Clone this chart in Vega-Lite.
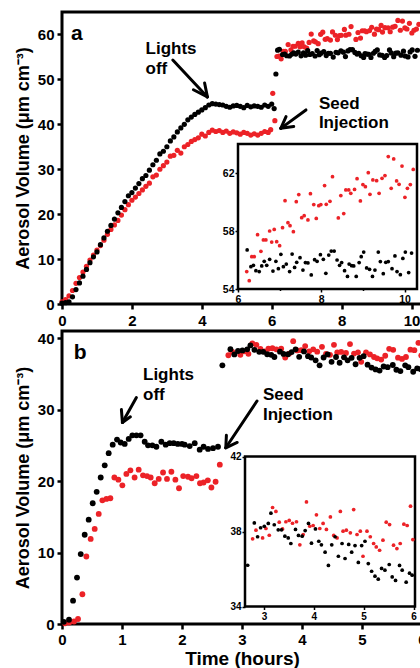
{
"$schema": "https://vega.github.io/schema/vega-lite/v6.json",
"background": "white",
"padding": {"left": 12, "top": 10, "right": 0, "bottom": 2},
"spacing": 27,
"bounds": "flush",
"config": {
  "view": {"stroke": "black", "strokeWidth": 3},
  "font": "Liberation Sans",
  "axis": {"grid": false, "domain": false, "tickColor": "black", "tickWidth": 2.5, "tickSize": 4, "labelColor": "black", "labelFont": "Liberation Sans", "labelFontWeight": "bold", "labelFontSize": 15, "labelPadding": 4, "titleFont": "Liberation Sans", "titleFontWeight": "bold", "titleColor": "black", "titleFontSize": 18, "labelFlush": false, "labelOverlap": false}
},
"datasets": {
  "a": [
    {"t":0,"v":0.5,"s":"Exp 2"},{"t":0.1,"v":1.0,"s":"Exp 2"},{"t":0.2,"v":1.8,"s":"Exp 2"},{"t":0.3,"v":3.0,"s":"Exp 2"},{"t":0.4,"v":4.6,"s":"Exp 2"},{"t":0.5,"v":5.9,"s":"Exp 2"},{"t":0.6,"v":7.1,"s":"Exp 2"},{"t":0.7,"v":8.4,"s":"Exp 2"},{"t":0.8,"v":9.8,"s":"Exp 2"},{"t":0.9,"v":10.9,"s":"Exp 2"},
    {"t":1.0,"v":12.0,"s":"Exp 2"},{"t":1.1,"v":13.0,"s":"Exp 2"},{"t":1.2,"v":14.2,"s":"Exp 2"},{"t":1.3,"v":15.5,"s":"Exp 2"},{"t":1.4,"v":16.6,"s":"Exp 2"},{"t":1.5,"v":17.6,"s":"Exp 2"},{"t":1.6,"v":18.6,"s":"Exp 2"},{"t":1.7,"v":19.8,"s":"Exp 2"},{"t":1.8,"v":21.0,"s":"Exp 2"},{"t":1.9,"v":22.1,"s":"Exp 2"},
    {"t":2.0,"v":23.1,"s":"Exp 2"},{"t":2.1,"v":23.8,"s":"Exp 2"},{"t":2.2,"v":24.6,"s":"Exp 2"},{"t":2.3,"v":25.4,"s":"Exp 2"},{"t":2.4,"v":26.2,"s":"Exp 2"},{"t":2.5,"v":26.9,"s":"Exp 2"},{"t":2.6,"v":28.3,"s":"Exp 2"},{"t":2.7,"v":28.7,"s":"Exp 2"},{"t":2.8,"v":30.0,"s":"Exp 2"},{"t":2.9,"v":30.8,"s":"Exp 2"},
    {"t":3.0,"v":31.6,"s":"Exp 2"},{"t":3.1,"v":32.9,"s":"Exp 2"},{"t":3.2,"v":33.1,"s":"Exp 2"},{"t":3.3,"v":34.2,"s":"Exp 2"},{"t":3.4,"v":33.6,"s":"Exp 2"},{"t":3.5,"v":35.0,"s":"Exp 2"},{"t":3.6,"v":35.5,"s":"Exp 2"},{"t":3.7,"v":36.2,"s":"Exp 2"},{"t":3.8,"v":36.6,"s":"Exp 2"},{"t":3.9,"v":37.0,"s":"Exp 2"},
    {"t":4.0,"v":37.8,"s":"Exp 2"},{"t":4.1,"v":37.4,"s":"Exp 2"},{"t":4.2,"v":38.2,"s":"Exp 2"},{"t":4.3,"v":38.7,"s":"Exp 2"},{"t":4.4,"v":38.4,"s":"Exp 2"},{"t":4.5,"v":38.6,"s":"Exp 2"},{"t":4.6,"v":38.2,"s":"Exp 2"},{"t":4.7,"v":38.5,"s":"Exp 2"},{"t":4.8,"v":38.0,"s":"Exp 2"},{"t":4.9,"v":38.3,"s":"Exp 2"},
    {"t":5.0,"v":38.1,"s":"Exp 2"},{"t":5.1,"v":37.8,"s":"Exp 2"},{"t":5.2,"v":38.2,"s":"Exp 2"},{"t":5.3,"v":38.0,"s":"Exp 2"},{"t":5.4,"v":37.6,"s":"Exp 2"},{"t":5.5,"v":37.9,"s":"Exp 2"},{"t":5.6,"v":37.6,"s":"Exp 2"},{"t":5.7,"v":38.0,"s":"Exp 2"},{"t":5.8,"v":38.4,"s":"Exp 2"},{"t":5.9,"v":38.2,"s":"Exp 2"},
    {"t":5.97,"v":38.8,"s":"Exp 2"},{"t":6.03,"v":46.9,"s":"Exp 2"},{"t":6.09,"v":40.8,"s":"Exp 2"},{"t":6.15,"v":55.1,"s":"Exp 2"},
    {"t":6.21,"v":55.20,"s":"Exp 2"},{"t":6.27,"v":54.57,"s":"Exp 2"},{"t":6.33,"v":56.23,"s":"Exp 2"},{"t":6.39,"v":56.23,"s":"Exp 2"},{"t":6.47,"v":57.75,"s":"Exp 2"},{"t":6.55,"v":56.60,"s":"Exp 2"},{"t":6.61,"v":57.38,"s":"Exp 2"},{"t":6.67,"v":57.38,"s":"Exp 2"},{"t":6.76,"v":58.0,"s":"Exp 2"},{"t":6.81,"v":57.24,"s":"Exp 2"},
    {"t":6.87,"v":58.11,"s":"Exp 2"},{"t":6.93,"v":57.26,"s":"Exp 2"},{"t":7.0,"v":56.99,"s":"Exp 2"},{"t":7.07,"v":58.23,"s":"Exp 2"},{"t":7.13,"v":60.09,"s":"Exp 2"},{"t":7.2,"v":58.57,"s":"Exp 2"},{"t":7.25,"v":58.37,"s":"Exp 2"},{"t":7.33,"v":57.95,"s":"Exp 2"},{"t":7.4,"v":60.02,"s":"Exp 2"},{"t":7.46,"v":60.51,"s":"Exp 2"},
    {"t":7.53,"v":58.92,"s":"Exp 2"},{"t":7.59,"v":59.06,"s":"Exp 2"},{"t":7.68,"v":58.76,"s":"Exp 2"},{"t":7.74,"v":60.57,"s":"Exp 2"},{"t":7.82,"v":59.82,"s":"Exp 2"},{"t":7.88,"v":58.87,"s":"Exp 2"},{"t":7.94,"v":59.75,"s":"Exp 2"},{"t":7.99,"v":59.82,"s":"Exp 2"},{"t":8.08,"v":61.13,"s":"Exp 2"},{"t":8.12,"v":59.84,"s":"Exp 2"},
    {"t":8.21,"v":60.05,"s":"Exp 2"},{"t":8.27,"v":61.75,"s":"Exp 2"},{"t":8.41,"v":58.9,"s":"Exp 2"},{"t":8.47,"v":60.44,"s":"Exp 2"},{"t":8.54,"v":59.2,"s":"Exp 2"},{"t":8.59,"v":60.83,"s":"Exp 2"},{"t":8.66,"v":60.83,"s":"Exp 2"},{"t":8.71,"v":60.6,"s":"Exp 2"},{"t":8.8,"v":60.87,"s":"Exp 2"},{"t":8.86,"v":61.61,"s":"Exp 2"},
    {"t":8.94,"v":60.07,"s":"Exp 2"},{"t":9.0,"v":61.2,"s":"Exp 2"},{"t":9.06,"v":61.06,"s":"Exp 2"},{"t":9.13,"v":62.02,"s":"Exp 2"},{"t":9.17,"v":60.53,"s":"Exp 2"},{"t":9.24,"v":61.52,"s":"Exp 2"},{"t":9.33,"v":61.47,"s":"Exp 2"},{"t":9.39,"v":60.6,"s":"Exp 2"},{"t":9.46,"v":61.63,"s":"Exp 2"},{"t":9.53,"v":61.82,"s":"Exp 2"},
    {"t":9.61,"v":63.13,"s":"Exp 2"},{"t":9.68,"v":60.94,"s":"Exp 2"},{"t":9.74,"v":62.97,"s":"Exp 2"},{"t":9.81,"v":61.45,"s":"Exp 2"},{"t":9.87,"v":61.22,"s":"Exp 2"},{"t":9.94,"v":62.48,"s":"Exp 2"},{"t":10.01,"v":60.32,"s":"Exp 2"},{"t":10.07,"v":60.94,"s":"Exp 2"},{"t":10.14,"v":61.2,"s":"Exp 2"},{"t":10.21,"v":62.25,"s":"Exp 2"},
    {"t":0,"v":0.2,"s":"Exp 1"},{"t":0.1,"v":0.3,"s":"Exp 1"},{"t":0.2,"v":0.5,"s":"Exp 1"},{"t":0.3,"v":1.6,"s":"Exp 1"},{"t":0.4,"v":3.2,"s":"Exp 1"},{"t":0.5,"v":4.7,"s":"Exp 1"},{"t":0.6,"v":6.2,"s":"Exp 1"},{"t":0.7,"v":7.7,"s":"Exp 1"},{"t":0.8,"v":9.2,"s":"Exp 1"},{"t":0.9,"v":10.5,"s":"Exp 1"},
    {"t":1.0,"v":11.6,"s":"Exp 1"},{"t":1.1,"v":13.2,"s":"Exp 1"},{"t":1.2,"v":14.7,"s":"Exp 1"},{"t":1.3,"v":16.2,"s":"Exp 1"},{"t":1.4,"v":17.5,"s":"Exp 1"},{"t":1.5,"v":18.9,"s":"Exp 1"},{"t":1.6,"v":20.3,"s":"Exp 1"},{"t":1.7,"v":21.5,"s":"Exp 1"},{"t":1.8,"v":22.8,"s":"Exp 1"},{"t":1.9,"v":24.1,"s":"Exp 1"},
    {"t":2.0,"v":24.8,"s":"Exp 1"},{"t":2.1,"v":25.8,"s":"Exp 1"},{"t":2.2,"v":26.8,"s":"Exp 1"},{"t":2.3,"v":27.9,"s":"Exp 1"},{"t":2.4,"v":28.6,"s":"Exp 1"},{"t":2.5,"v":29.8,"s":"Exp 1"},{"t":2.6,"v":31.0,"s":"Exp 1"},{"t":2.7,"v":32.0,"s":"Exp 1"},{"t":2.8,"v":33.4,"s":"Exp 1"},{"t":2.9,"v":34.0,"s":"Exp 1"},
    {"t":3.0,"v":35.0,"s":"Exp 1"},{"t":3.1,"v":36.3,"s":"Exp 1"},{"t":3.2,"v":37.2,"s":"Exp 1"},{"t":3.3,"v":38.3,"s":"Exp 1"},{"t":3.4,"v":39.2,"s":"Exp 1"},{"t":3.5,"v":40.0,"s":"Exp 1"},{"t":3.6,"v":41.0,"s":"Exp 1"},{"t":3.7,"v":41.6,"s":"Exp 1"},{"t":3.8,"v":42.2,"s":"Exp 1"},{"t":3.9,"v":42.7,"s":"Exp 1"},
    {"t":4.0,"v":43.2,"s":"Exp 1"},{"t":4.1,"v":43.7,"s":"Exp 1"},{"t":4.2,"v":44.3,"s":"Exp 1"},{"t":4.3,"v":44.6,"s":"Exp 1"},{"t":4.4,"v":44.5,"s":"Exp 1"},{"t":4.5,"v":44.4,"s":"Exp 1"},{"t":4.6,"v":44.3,"s":"Exp 1"},{"t":4.7,"v":44.0,"s":"Exp 1"},{"t":4.8,"v":43.8,"s":"Exp 1"},{"t":4.9,"v":44.1,"s":"Exp 1"},
    {"t":5.0,"v":44.2,"s":"Exp 1"},{"t":5.1,"v":44.0,"s":"Exp 1"},{"t":5.2,"v":43.7,"s":"Exp 1"},{"t":5.3,"v":44.2,"s":"Exp 1"},{"t":5.4,"v":43.9,"s":"Exp 1"},{"t":5.5,"v":44.1,"s":"Exp 1"},{"t":5.6,"v":44.0,"s":"Exp 1"},{"t":5.7,"v":43.8,"s":"Exp 1"},{"t":5.8,"v":44.3,"s":"Exp 1"},{"t":5.9,"v":44.0,"s":"Exp 1"},
    {"t":6.0,"v":44.5,"s":"Exp 1"},{"t":6.07,"v":43.5,"s":"Exp 1"},{"t":6.12,"v":51.2,"s":"Exp 1"},{"t":6.17,"v":56.5,"s":"Exp 1"},
    {"t":6.22,"v":56.69,"s":"Exp 1"},{"t":6.31,"v":55.54,"s":"Exp 1"},{"t":6.37,"v":55.63,"s":"Exp 1"},{"t":6.43,"v":55.26,"s":"Exp 1"},{"t":6.51,"v":55.20,"s":"Exp 1"},{"t":6.57,"v":55.59,"s":"Exp 1"},{"t":6.63,"v":55.91,"s":"Exp 1"},{"t":6.69,"v":55.63,"s":"Exp 1"},{"t":6.76,"v":56.05,"s":"Exp 1"},{"t":6.84,"v":55.24,"s":"Exp 1"},
    {"t":6.91,"v":55.91,"s":"Exp 1"},{"t":6.97,"v":55.40,"s":"Exp 1"},{"t":7.03,"v":56.39,"s":"Exp 1"},{"t":7.09,"v":55.54,"s":"Exp 1"},{"t":7.16,"v":55.72,"s":"Exp 1"},{"t":7.24,"v":55.20,"s":"Exp 1"},{"t":7.30,"v":56.41,"s":"Exp 1"},{"t":7.36,"v":55.49,"s":"Exp 1"},{"t":7.41,"v":55.84,"s":"Exp 1"},{"t":7.49,"v":56.16,"s":"Exp 1"},
    {"t":7.56,"v":55.31,"s":"Exp 1"},{"t":7.62,"v":55.82,"s":"Exp 1"},{"t":7.68,"v":55.80,"s":"Exp 1"},{"t":7.76,"v":54.97,"s":"Exp 1"},{"t":7.84,"v":56.02,"s":"Exp 1"},{"t":7.90,"v":55.91,"s":"Exp 1"},{"t":7.98,"v":56.37,"s":"Exp 1"},{"t":8.05,"v":56.05,"s":"Exp 1"},{"t":8.11,"v":55.08,"s":"Exp 1"},{"t":8.18,"v":56.34,"s":"Exp 1"},
    {"t":8.24,"v":56.62,"s":"Exp 1"},{"t":8.31,"v":56.62,"s":"Exp 1"},{"t":8.38,"v":56.0,"s":"Exp 1"},{"t":8.44,"v":55.63,"s":"Exp 1"},{"t":8.49,"v":55.82,"s":"Exp 1"},{"t":8.56,"v":55.26,"s":"Exp 1"},{"t":8.63,"v":54.87,"s":"Exp 1"},{"t":8.67,"v":55.72,"s":"Exp 1"},{"t":8.73,"v":55.61,"s":"Exp 1"},{"t":8.78,"v":55.59,"s":"Exp 1"},
    {"t":8.84,"v":54.87,"s":"Exp 1"},{"t":8.91,"v":55.82,"s":"Exp 1"},{"t":8.96,"v":56.23,"s":"Exp 1"},{"t":9.02,"v":56.55,"s":"Exp 1"},{"t":9.09,"v":55.45,"s":"Exp 1"},{"t":9.16,"v":55.36,"s":"Exp 1"},{"t":9.23,"v":54.87,"s":"Exp 1"},{"t":9.29,"v":55.31,"s":"Exp 1"},{"t":9.37,"v":56.55,"s":"Exp 1"},{"t":9.42,"v":55.89,"s":"Exp 1"},
    {"t":9.49,"v":55.06,"s":"Exp 1"},{"t":9.55,"v":55.84,"s":"Exp 1"},{"t":9.61,"v":55.89,"s":"Exp 1"},{"t":9.70,"v":55.40,"s":"Exp 1"},{"t":9.77,"v":56.28,"s":"Exp 1"},{"t":9.82,"v":55.20,"s":"Exp 1"},{"t":9.90,"v":54.99,"s":"Exp 1"},{"t":9.96,"v":56.11,"s":"Exp 1"},{"t":10.02,"v":56.55,"s":"Exp 1"},{"t":10.10,"v":55.13,"s":"Exp 1"},
    {"t":10.17,"v":56.48,"s":"Exp 1"}
  ],
  "b": [
    {"t":0.05,"v":0.1,"s":"Exp 2"},{"t":0.12,"v":0.2,"s":"Exp 2"},{"t":0.2,"v":0.35,"s":"Exp 2"},{"t":0.267,"v":0.7,"s":"Exp 2"},{"t":0.34,"v":4.16,"s":"Exp 2"},{"t":0.406,"v":9.45,"s":"Exp 2"},{"t":0.478,"v":11.9,"s":"Exp 2"},{"t":0.545,"v":13.3,"s":"Exp 2"},{"t":0.612,"v":15.4,"s":"Exp 2"},{"t":0.673,"v":17.3,"s":"Exp 2"},
    {"t":0.74,"v":17.5,"s":"Exp 2"},{"t":0.806,"v":17.6,"s":"Exp 2"},{"t":0.873,"v":20.5,"s":"Exp 2"},{"t":0.94,"v":20.2,"s":"Exp 2"},{"t":1.006,"v":19.4,"s":"Exp 2"},{"t":1.073,"v":21.0,"s":"Exp 2"},{"t":1.14,"v":21.5,"s":"Exp 2"},{"t":1.21,"v":20.5,"s":"Exp 2"},{"t":1.278,"v":21.6,"s":"Exp 2"},{"t":1.35,"v":20.8,"s":"Exp 2"},
    {"t":1.417,"v":20.7,"s":"Exp 2"},{"t":1.478,"v":20.5,"s":"Exp 2"},{"t":1.545,"v":19.7,"s":"Exp 2"},{"t":1.612,"v":20.3,"s":"Exp 2"},{"t":1.684,"v":21.2,"s":"Exp 2"},{"t":1.75,"v":20.3,"s":"Exp 2"},{"t":1.823,"v":21.3,"s":"Exp 2"},{"t":1.89,"v":20.2,"s":"Exp 2"},{"t":1.95,"v":19.0,"s":"Exp 2"},{"t":2.02,"v":20.7,"s":"Exp 2"},
    {"t":2.1,"v":20.6,"s":"Exp 2"},{"t":2.16,"v":20.4,"s":"Exp 2"},{"t":2.24,"v":20.7,"s":"Exp 2"},{"t":2.3,"v":19.7,"s":"Exp 2"},{"t":2.36,"v":19.8,"s":"Exp 2"},{"t":2.43,"v":20.1,"s":"Exp 2"},{"t":2.49,"v":19.1,"s":"Exp 2"},{"t":2.56,"v":19.9,"s":"Exp 2"},{"t":2.63,"v":22.3,"s":"Exp 2"},
    {"t":2.773,"v":37.61,"s":"Exp 2"},{"t":2.84,"v":38.07,"s":"Exp 2"},{"t":2.973,"v":37.66,"s":"Exp 2"},{"t":3.04,"v":38.16,"s":"Exp 2"},{"t":3.107,"v":37.80,"s":"Exp 2"},{"t":3.173,"v":39.28,"s":"Exp 2"},{"t":3.24,"v":39.07,"s":"Exp 2"},{"t":3.307,"v":38.50,"s":"Exp 2"},{"t":3.373,"v":38.14,"s":"Exp 2"},{"t":3.44,"v":38.52,"s":"Exp 2"},
    {"t":3.507,"v":38.59,"s":"Exp 2"},{"t":3.573,"v":38.44,"s":"Exp 2"},{"t":3.653,"v":38.52,"s":"Exp 2"},{"t":3.72,"v":37.29,"s":"Exp 2"},{"t":3.787,"v":37.84,"s":"Exp 2"},{"t":3.853,"v":39.58,"s":"Exp 2"},{"t":3.92,"v":38.28,"s":"Exp 2"},{"t":3.987,"v":38.32,"s":"Exp 2"},{"t":4.053,"v":38.89,"s":"Exp 2"},{"t":4.12,"v":38.16,"s":"Exp 2"},
    {"t":4.187,"v":38.43,"s":"Exp 2"},{"t":4.253,"v":38.11,"s":"Exp 2"},{"t":4.333,"v":38.78,"s":"Exp 2"},{"t":4.40,"v":37.79,"s":"Exp 2"},{"t":4.467,"v":37.66,"s":"Exp 2"},{"t":4.533,"v":39.07,"s":"Exp 2"},{"t":4.587,"v":38.02,"s":"Exp 2"},{"t":4.653,"v":38.07,"s":"Exp 2"},{"t":4.733,"v":37.93,"s":"Exp 2"},{"t":4.80,"v":39.17,"s":"Exp 2"},
    {"t":4.867,"v":37.84,"s":"Exp 2"},{"t":4.933,"v":38.02,"s":"Exp 2"},{"t":4.987,"v":36.68,"s":"Exp 2"},{"t":5.067,"v":38.02,"s":"Exp 2"},{"t":5.133,"v":37.72,"s":"Exp 2"},{"t":5.20,"v":37.36,"s":"Exp 2"},{"t":5.253,"v":37.18,"s":"Exp 2"},{"t":5.32,"v":37.00,"s":"Exp 2"},{"t":5.387,"v":37.54,"s":"Exp 2"},{"t":5.453,"v":38.50,"s":"Exp 2"},
    {"t":5.52,"v":38.37,"s":"Exp 2"},{"t":5.60,"v":37.27,"s":"Exp 2"},{"t":5.667,"v":37.09,"s":"Exp 2"},{"t":5.733,"v":37.36,"s":"Exp 2"},{"t":5.807,"v":38.39,"s":"Exp 2"},{"t":5.873,"v":38.32,"s":"Exp 2"},{"t":5.94,"v":39.35,"s":"Exp 2"},{"t":5.987,"v":37.57,"s":"Exp 2"},
    {"t":0.03,"v":0.3,"s":"Exp 1"},{"t":0.117,"v":0.6,"s":"Exp 1"},{"t":0.184,"v":3.27,"s":"Exp 1"},{"t":0.25,"v":6.5,"s":"Exp 1"},{"t":0.312,"v":9.78,"s":"Exp 1"},{"t":0.378,"v":12.49,"s":"Exp 1"},{"t":0.445,"v":14.6,"s":"Exp 1"},{"t":0.512,"v":16.9,"s":"Exp 1"},{"t":0.578,"v":18.5,"s":"Exp 1"},{"t":0.645,"v":20.5,"s":"Exp 1"},
    {"t":0.712,"v":22.2,"s":"Exp 1"},{"t":0.778,"v":23.9,"s":"Exp 1"},{"t":0.845,"v":25.1,"s":"Exp 1"},{"t":0.917,"v":25.8,"s":"Exp 1"},{"t":0.978,"v":25.4,"s":"Exp 1"},{"t":1.045,"v":25.2,"s":"Exp 1"},{"t":1.112,"v":25.9,"s":"Exp 1"},{"t":1.173,"v":26.4,"s":"Exp 1"},{"t":1.24,"v":26.4,"s":"Exp 1"},{"t":1.31,"v":26.4,"s":"Exp 1"},
    {"t":1.378,"v":25.5,"s":"Exp 1"},{"t":1.434,"v":25.0,"s":"Exp 1"},{"t":1.506,"v":25.0,"s":"Exp 1"},{"t":1.573,"v":24.8,"s":"Exp 1"},{"t":1.656,"v":25.5,"s":"Exp 1"},{"t":1.728,"v":25.1,"s":"Exp 1"},{"t":1.795,"v":25.3,"s":"Exp 1"},{"t":1.862,"v":25.3,"s":"Exp 1"},{"t":1.93,"v":25.2,"s":"Exp 1"},{"t":2.0,"v":25.2,"s":"Exp 1"},
    {"t":2.045,"v":25.1,"s":"Exp 1"},{"t":2.128,"v":24.9,"s":"Exp 1"},{"t":2.212,"v":25.3,"s":"Exp 1"},{"t":2.295,"v":24.4,"s":"Exp 1"},{"t":2.36,"v":24.8,"s":"Exp 1"},{"t":2.434,"v":24.5,"s":"Exp 1"},{"t":2.517,"v":24.6,"s":"Exp 1"},{"t":2.6,"v":24.8,"s":"Exp 1"},
    {"t":2.673,"v":36.20,"s":"Exp 1"},{"t":2.807,"v":38.46,"s":"Exp 1"},{"t":2.873,"v":37.72,"s":"Exp 1"},{"t":2.933,"v":38.20,"s":"Exp 1"},{"t":3.007,"v":38.28,"s":"Exp 1"},{"t":3.087,"v":38.43,"s":"Exp 1"},{"t":3.14,"v":38.98,"s":"Exp 1"},{"t":3.207,"v":38.36,"s":"Exp 1"},{"t":3.287,"v":38.09,"s":"Exp 1"},{"t":3.353,"v":38.09,"s":"Exp 1"},
    {"t":3.42,"v":37.75,"s":"Exp 1"},{"t":3.487,"v":37.66,"s":"Exp 1"},{"t":3.54,"v":37.36,"s":"Exp 1"},{"t":3.633,"v":38.11,"s":"Exp 1"},{"t":3.693,"v":37.79,"s":"Exp 1"},{"t":3.767,"v":37.75,"s":"Exp 1"},{"t":3.827,"v":38.05,"s":"Exp 1"},{"t":3.893,"v":38.43,"s":"Exp 1"},{"t":3.953,"v":37.38,"s":"Exp 1"},{"t":4.033,"v":38.14,"s":"Exp 1"},
    {"t":4.10,"v":37.48,"s":"Exp 1"},{"t":4.153,"v":37.29,"s":"Exp 1"},{"t":4.227,"v":36.90,"s":"Exp 1"},{"t":4.293,"v":36.19,"s":"Exp 1"},{"t":4.36,"v":37.29,"s":"Exp 1"},{"t":4.427,"v":37.72,"s":"Exp 1"},{"t":4.493,"v":36.68,"s":"Exp 1"},{"t":4.567,"v":37.36,"s":"Exp 1"},{"t":4.627,"v":36.56,"s":"Exp 1"},{"t":4.70,"v":37.31,"s":"Exp 1"},
    {"t":4.76,"v":36.90,"s":"Exp 1"},{"t":4.827,"v":37.25,"s":"Exp 1"},{"t":4.893,"v":36.35,"s":"Exp 1"},{"t":4.96,"v":37.25,"s":"Exp 1"},{"t":5.027,"v":37.48,"s":"Exp 1"},{"t":5.093,"v":36.29,"s":"Exp 1"},{"t":5.16,"v":35.88,"s":"Exp 1"},{"t":5.227,"v":35.62,"s":"Exp 1"},{"t":5.293,"v":35.46,"s":"Exp 1"},{"t":5.36,"v":36.03,"s":"Exp 1"},
    {"t":5.427,"v":35.94,"s":"Exp 1"},{"t":5.513,"v":36.24,"s":"Exp 1"},{"t":5.573,"v":35.58,"s":"Exp 1"},{"t":5.64,"v":35.39,"s":"Exp 1"},{"t":5.72,"v":36.19,"s":"Exp 1"},{"t":5.773,"v":35.94,"s":"Exp 1"},{"t":5.853,"v":35.30,"s":"Exp 1"},{"t":5.92,"v":35.78,"s":"Exp 1"},{"t":5.973,"v":35.67,"s":"Exp 1"}
  ],
  "a_txt": [
    {"t":2.39,"v":55.7,"label":"Lights"},{"t":2.39,"v":51.3,"label":"off"},
    {"t":7.35,"v":43.5,"label":"Seed"},{"t":7.35,"v":39.1,"label":"Injection"}
  ],
  "a_arrows": [
    {"t":3.17,"v":54.3,"t2":4.16,"v2":46.1},{"t":4.16,"v":46.1,"t2":3.76,"v2":47.7},{"t":4.16,"v":46.1,"t2":4.08,"v2":49.2},
    {"t":6.98,"v":43.2,"t2":6.26,"v2":39.1},{"t":6.26,"v":39.1,"t2":6.41,"v2":41.7},{"t":6.26,"v":39.1,"t2":6.63,"v2":39.5}
  ],
  "b_txt": [
    {"t":1.35,"v":34.2,"label":"Lights"},{"t":1.35,"v":31.4,"label":"off"},
    {"t":3.35,"v":31.3,"label":"Seed"},{"t":3.35,"v":28.6,"label":"Injection"}
  ],
  "b_arrows": [
    {"t":1.24,"v":31.7,"t2":1.007,"v2":28.2},{"t":1.007,"v":28.2,"t2":0.99,"v2":30.0},{"t":1.007,"v":28.2,"t2":1.14,"v2":29.0},
    {"t":3.25,"v":31.2,"t2":2.73,"v2":24.66},{"t":2.73,"v":24.66,"t2":2.74,"v2":26.4},{"t":2.73,"v":24.66,"t2":2.92,"v2":25.4}
  ]
},
"vconcat": [
  {
    "width": 360, "height": 292,
    "resolve": {"scale": {"x": "independent", "y": "independent"}},
    "layer": [
      {
        "layer": [
          {
            "data": {"name": "a"},
            "mark": {"type": "circle", "size": 27, "opacity": 1},
            "encoding": {
              "x": {"field": "t", "type": "quantitative", "scale": {"domain": [0, 10.3], "nice": false, "zero": false},
                    "axis": {"values": [0,1,2,3,4,5,6,7,8,9,10], "format": "d", "labelExpr": "datum.value % 2 === 0 ? datum.label : ''", "title": null, "labelPadding": 4,
                             "tickSize": {"condition": {"test": "datum.value % 2 === 0", "value": 5}, "value": 2}}},
              "y": {"field": "v", "type": "quantitative", "scale": {"domain": [0, 65], "nice": false},
                    "axis": {"values": [0,5,10,15,20,25,30,35,40,45,50,55,60], "format": "d", "labelExpr": "datum.value % 10 === 0 ? datum.label : ''", "title": "Aerosol Volume (μm cm⁻³)", "titlePadding": 5, "labelPadding": 3,
                             "tickSize": {"condition": {"test": "datum.value % 10 === 0", "value": 5}, "value": 2}}},
              "color": {"field": "s", "type": "nominal", "scale": {"domain": ["Exp 1", "Exp 2"], "range": ["#000000", "#ec2227"]}, "legend": null}
            }
          },
          {
            "data": {"name": "a_arrows"},
            "mark": {"type": "rule", "strokeWidth": 3, "color": "black", "strokeCap": "round"},
            "encoding": {
              "x": {"field": "t", "type": "quantitative"}, "y": {"field": "v", "type": "quantitative"},
              "x2": {"field": "t2"}, "y2": {"field": "v2"}
            }
          },
          {
            "data": {"name": "a_txt"},
            "mark": {"type": "text", "align": "left", "baseline": "alphabetic", "fontSize": 17, "fontWeight": "bold", "font": "Liberation Sans", "color": "black"},
            "encoding": {"x": {"field": "t", "type": "quantitative"}, "y": {"field": "v", "type": "quantitative"}, "text": {"field": "label"}}
          },
          {
            "data": {"values": [{"t": 0.26, "v": 58.8, "label": "a"}]},
            "mark": {"type": "text", "align": "left", "baseline": "alphabetic", "fontSize": 21, "fontWeight": "bold", "font": "Liberation Sans", "color": "black"},
            "encoding": {"x": {"field": "t", "type": "quantitative"}, "y": {"field": "v", "type": "quantitative"}, "text": {"field": "label"}}
          }
        ]
      },
      {
        "layer": [
          {
            "data": {"values": [{"t1": 6, "t2": 10.3, "v1": 54, "v2": 64}]},
            "mark": {"type": "rect", "fill": "white", "stroke": "black", "strokeWidth": 2.5},
            "encoding": {
              "x": {"field": "t1", "type": "quantitative", "scale": {"domain": [6, 10.3], "range": [176, 355], "nice": false, "zero": false},
                    "axis": {"orient": "bottom", "offset": -15, "values": [6,7,8,9,10], "format": "d", "labelExpr": "datum.value % 2 === 0 ? datum.label : ''", "title": null, "labelFontSize": 10.5, "tickWidth": 1.5, "labelPadding": 2,
                             "tickSize": {"condition": {"test": "datum.value % 2 === 0", "value": 3}, "value": 1.5}}},
              "x2": {"field": "t2"},
              "y": {"field": "v1", "type": "quantitative", "scale": {"domain": [54, 64], "range": [277, 132], "nice": false, "zero": false},
                    "axis": {"orient": "left", "offset": -176, "values": [54,56,58,60,62], "format": "d", "labelExpr": "(datum.value - 54) % 4 === 0 ? datum.label : ''", "title": null, "labelFontSize": 10.5, "tickWidth": 1.5, "labelPadding": 1,
                             "tickSize": {"condition": {"test": "(datum.value - 54) % 4 === 0", "value": 3}, "value": 1.5}}},
              "y2": {"field": "v2"}
            }
          },
          {
            "data": {"name": "a"},
            "transform": [{"filter": "datum.t >= 6.2"}],
            "mark": {"type": "circle", "size": 14, "opacity": 1, "clip": true},
            "encoding": {
              "x": {"field": "t", "type": "quantitative"},
              "y": {"field": "v", "type": "quantitative"},
              "color": {"field": "s", "type": "nominal", "scale": {"domain": ["Exp 1", "Exp 2"], "range": ["#000000", "#ec2227"]}, "legend": null}
            }
          }
        ]
      }
    ]
  },
  {
    "width": 360, "height": 293,
    "resolve": {"scale": {"x": "independent", "y": "independent"}},
    "layer": [
      {
        "layer": [
          {
            "data": {"name": "b"},
            "mark": {"type": "circle", "size": 34, "opacity": 1},
            "encoding": {
              "x": {"field": "t", "type": "quantitative", "scale": {"domain": [0, 6], "nice": false, "zero": false},
                    "axis": {"values": [0,0.5,1,1.5,2,2.5,3,3.5,4,4.5,5,5.5,6], "format": "d", "labelExpr": "datum.value % 1 === 0 ? datum.label : ''", "title": "Time (hours)", "titleFontSize": 19, "titlePadding": 2, "labelPadding": 3,
                             "tickSize": {"condition": {"test": "datum.value % 1 === 0", "value": 5}, "value": 2}}},
              "y": {"field": "v", "type": "quantitative", "scale": {"domain": [0, 41], "nice": false},
                    "axis": {"values": [0,5,10,15,20,25,30,35,40], "format": "d", "labelExpr": "datum.value % 10 === 0 ? datum.label : ''", "title": "Aerosol Volume (μm cm⁻³)", "titlePadding": 5, "labelPadding": 3,
                             "tickSize": {"condition": {"test": "datum.value % 10 === 0", "value": 5}, "value": 2}}},
              "color": {"field": "s", "type": "nominal", "scale": {"domain": ["Exp 1", "Exp 2"], "range": ["#000000", "#ec2227"]}, "legend": null}
            }
          },
          {
            "data": {"name": "b_arrows"},
            "mark": {"type": "rule", "strokeWidth": 3, "color": "black", "strokeCap": "round"},
            "encoding": {
              "x": {"field": "t", "type": "quantitative"}, "y": {"field": "v", "type": "quantitative"},
              "x2": {"field": "t2"}, "y2": {"field": "v2"}
            }
          },
          {
            "data": {"name": "b_txt"},
            "mark": {"type": "text", "align": "left", "baseline": "alphabetic", "fontSize": 17, "fontWeight": "bold", "font": "Liberation Sans", "color": "black"},
            "encoding": {"x": {"field": "t", "type": "quantitative"}, "y": {"field": "v", "type": "quantitative"}, "text": {"field": "label"}}
          },
          {
            "data": {"values": [{"t": 0.195, "v": 37.1, "label": "b"}]},
            "mark": {"type": "text", "align": "left", "baseline": "alphabetic", "fontSize": 21, "fontWeight": "bold", "font": "Liberation Sans", "color": "black"},
            "encoding": {"x": {"field": "t", "type": "quantitative"}, "y": {"field": "v", "type": "quantitative"}, "text": {"field": "label"}}
          }
        ]
      },
      {
        "layer": [
          {
            "data": {"values": [{"t1": 2.62, "t2": 6.03, "v1": 34, "v2": 42}]},
            "mark": {"type": "rect", "fill": "white", "stroke": "black", "strokeWidth": 2.5},
            "encoding": {
              "x": {"field": "t1", "type": "quantitative", "scale": {"domain": [2.62, 6.03], "range": [183, 353], "nice": false, "zero": false},
                    "axis": {"orient": "bottom", "offset": -17.5, "values": [3,3.5,4,4.5,5,5.5,6], "format": "d", "labelExpr": "datum.value % 1 === 0 ? datum.label : ''", "title": null, "labelFontSize": 10, "tickWidth": 1.5, "labelPadding": 2,
                             "tickSize": {"condition": {"test": "datum.value % 1 === 0", "value": 3}, "value": 1.5}}},
              "x2": {"field": "t2"},
              "y": {"field": "v1", "type": "quantitative", "scale": {"domain": [34, 42], "range": [275.5, 125.5], "nice": false, "zero": false},
                    "axis": {"orient": "left", "offset": -183, "values": [34,36,38,40,42], "format": "d", "labelExpr": "(datum.value - 34) % 4 === 0 ? datum.label : ''", "title": null, "labelFontSize": 10, "tickWidth": 1.5, "labelPadding": 1,
                             "tickSize": {"condition": {"test": "(datum.value - 34) % 4 === 0", "value": 3}, "value": 1.5}}},
              "y2": {"field": "v2"}
            }
          },
          {
            "data": {"name": "b"},
            "transform": [{"filter": "datum.t >= 2.65 && datum.v >= 34"}],
            "mark": {"type": "circle", "size": 14, "opacity": 1, "clip": true},
            "encoding": {
              "x": {"field": "t", "type": "quantitative"},
              "y": {"field": "v", "type": "quantitative"},
              "color": {"field": "s", "type": "nominal", "scale": {"domain": ["Exp 1", "Exp 2"], "range": ["#000000", "#ec2227"]}, "legend": null}
            }
          }
        ]
      }
    ]
  }
]
}
